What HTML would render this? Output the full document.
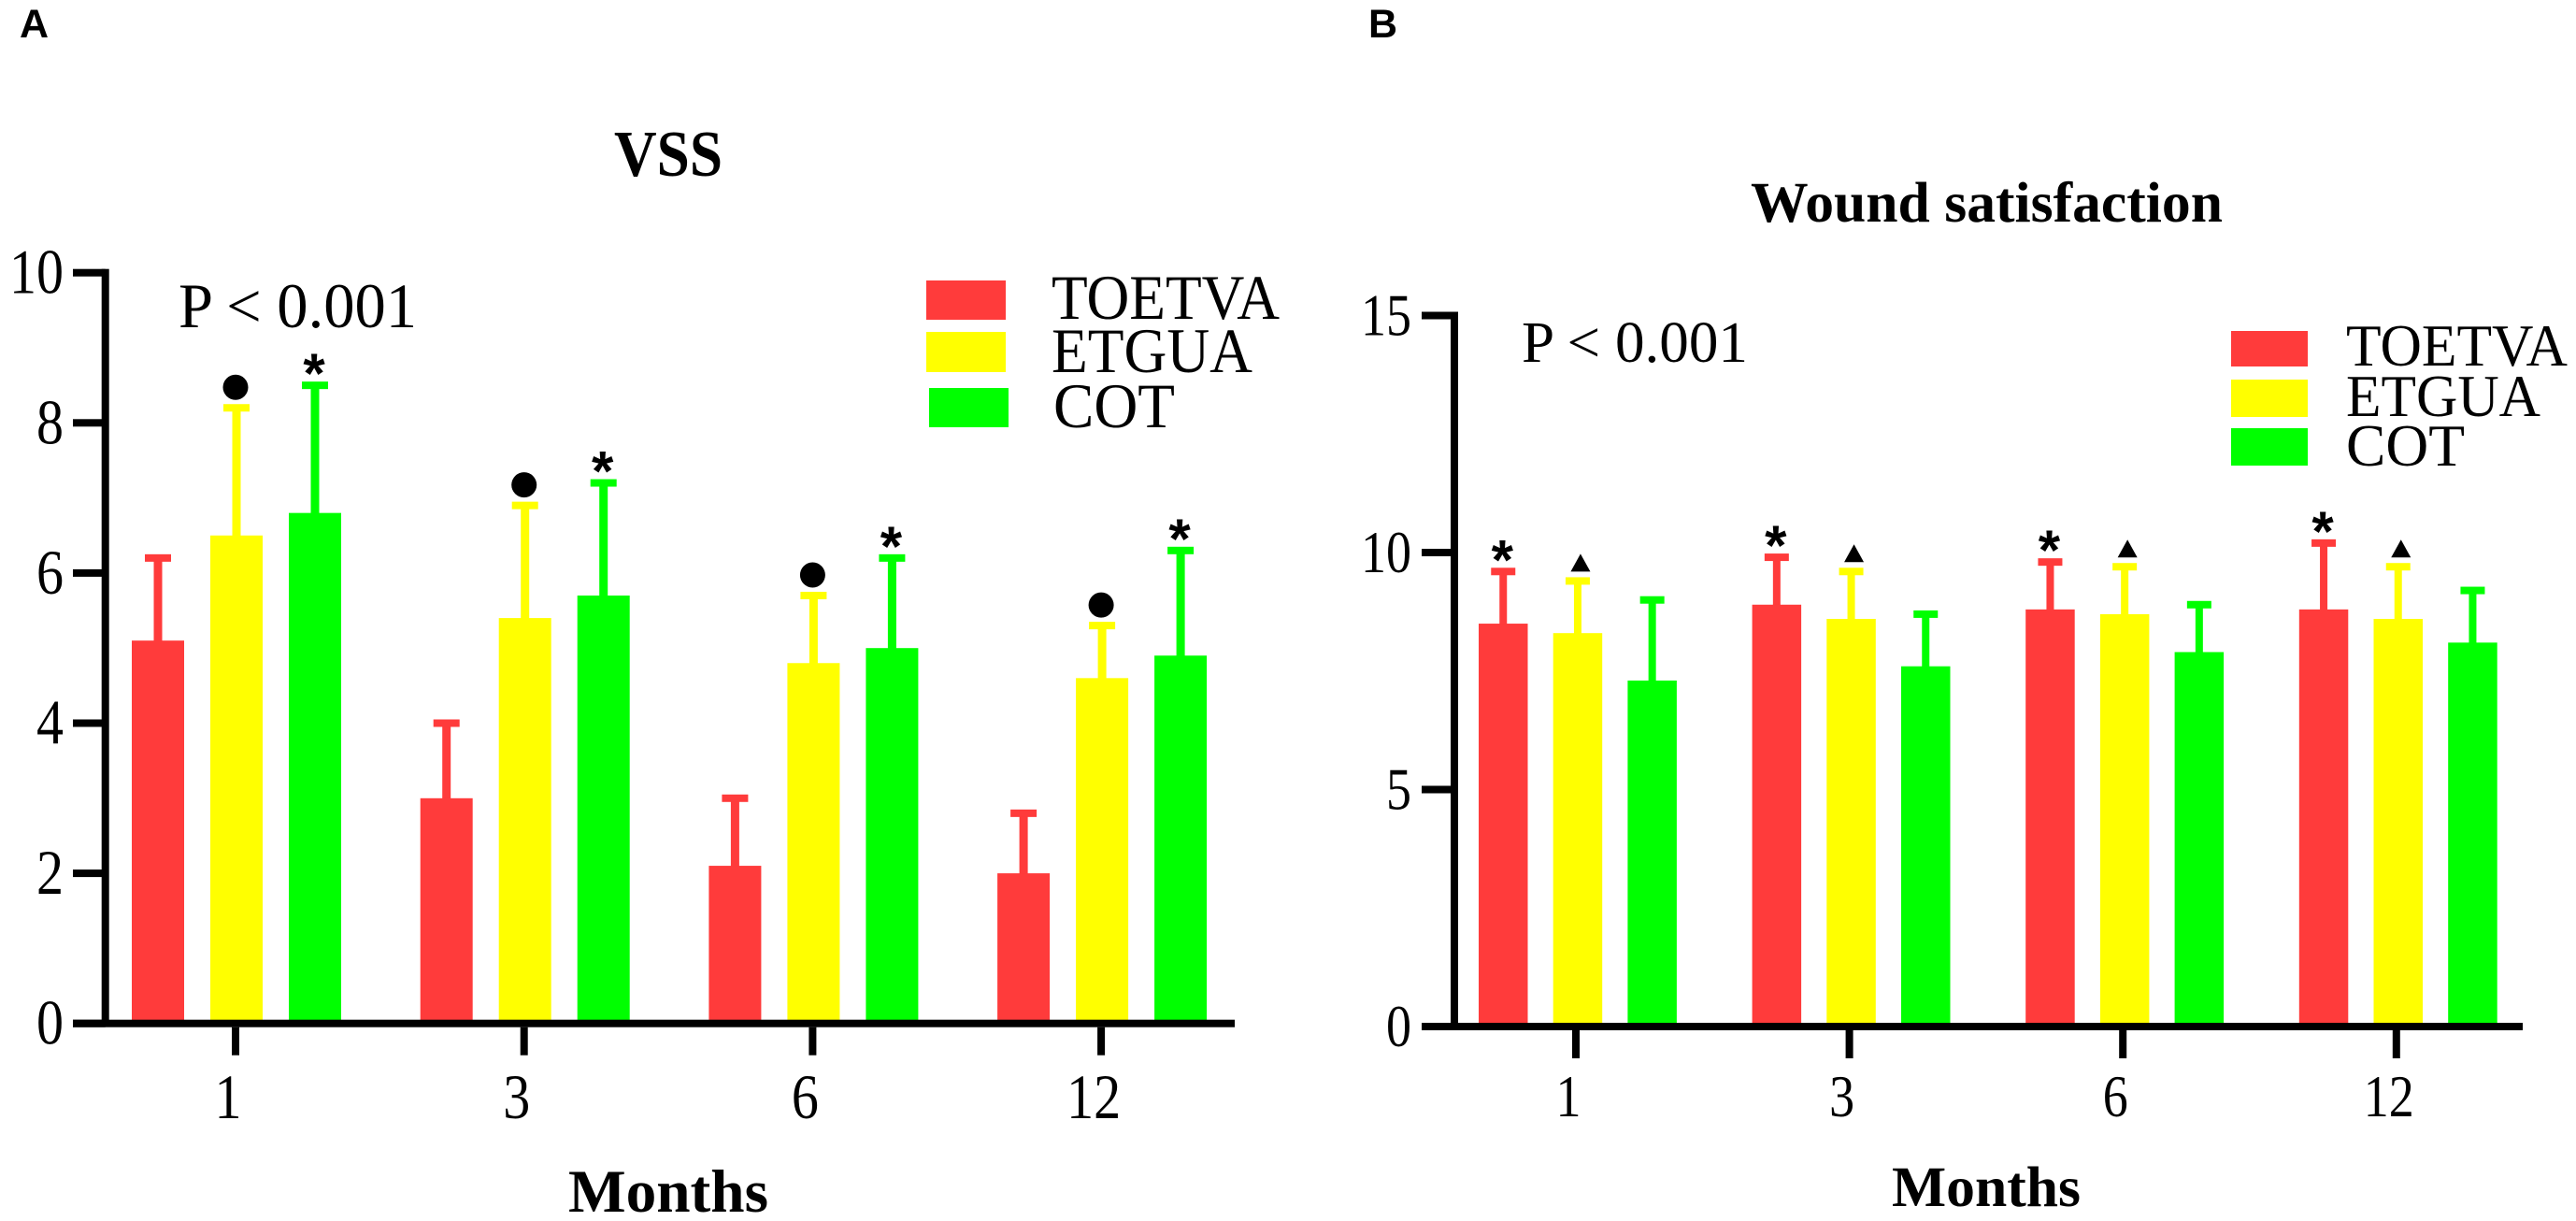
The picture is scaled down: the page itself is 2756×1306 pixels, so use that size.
<!DOCTYPE html>
<html lang="en">
<head>
<meta charset="utf-8">
<title>VSS and Wound satisfaction charts</title>
<style>
html,body{margin:0;padding:0;background:#fff;width:2756px;height:1306px;overflow:hidden}
svg{display:block}
text{font-family:"Liberation Serif",serif;fill:#000}
.sans{font-family:"Liberation Sans",sans-serif;font-weight:700}
.b{font-weight:700}
</style>
</head>
<body>
<svg id="figure" xmlns="http://www.w3.org/2000/svg" width="2756" height="1306" viewBox="0 0 2756 1306">
  <rect width="2756" height="1306" fill="#fff"/>

  <text class="sans" x="21" y="40" font-size="43">A</text>
  <text class="sans" x="1464" y="40" font-size="43">B</text>

  <text class="b" x="657" y="188" font-size="70" textLength="116" lengthAdjust="spacingAndGlyphs">VSS</text>
  <text class="b" x="1873" y="237" font-size="61" textLength="505" lengthAdjust="spacingAndGlyphs">Wound satisfaction</text>

  <text x="191" y="350" font-size="68" textLength="255" lengthAdjust="spacingAndGlyphs">P &lt; 0.001</text>
  <text x="1628" y="387" font-size="62" textLength="242" lengthAdjust="spacingAndGlyphs">P &lt; 0.001</text>

  <text class="b" x="608" y="1296" font-size="65" textLength="214" lengthAdjust="spacingAndGlyphs">Months</text>
  <text class="b" x="2024" y="1290" font-size="61" textLength="202" lengthAdjust="spacingAndGlyphs">Months</text>

  <g>
    <rect x="991" y="300" width="85" height="42" fill="#ff3b3b"/>
    <rect x="991" y="355" width="85" height="43" fill="#ffff00"/>
    <rect x="994" y="415" width="85" height="42" fill="#00ff00"/>
    <text x="1125" y="341" font-size="68" textLength="244" lengthAdjust="spacingAndGlyphs">TOETVA</text>
    <text x="1125" y="398" font-size="68" textLength="215" lengthAdjust="spacingAndGlyphs">ETGUA</text>
    <text x="1127" y="457" font-size="68" textLength="130" lengthAdjust="spacingAndGlyphs">COT</text>
  </g>
  <g>
    <rect x="2387" y="354" width="82" height="38" fill="#ff3b3b"/>
    <rect x="2387" y="406" width="82" height="40" fill="#ffff00"/>
    <rect x="2387" y="458" width="82" height="40" fill="#00ff00"/>
    <text x="2510" y="391" font-size="63" textLength="237" lengthAdjust="spacingAndGlyphs">TOETVA</text>
    <text x="2510" y="445" font-size="63" textLength="208" lengthAdjust="spacingAndGlyphs">ETGUA</text>
    <text x="2510" y="498" font-size="63" textLength="127" lengthAdjust="spacingAndGlyphs">COT</text>
  </g>
</svg>
<script>
// ---- Shared categories ----
const months = ['1', '3', '6', '12'];
const seriesNames = ['TOETVA', 'ETGUA', 'COT'];
const seriesColors = ['#ff3b3b', '#ffff00', '#00ff00'];

// ---- Panel A: VSS ----
const vssTicks = [0, 2, 4, 6, 8, 10];
const vssToetva = [5.1, 3.0, 2.1, 2.0];
const vssEtgua = [6.5, 5.4, 4.8, 4.6];
const vssCot = [6.8, 5.7, 5.0, 4.9];
const vssToetvaErr = [6.2, 4.0, 3.0, 2.8];
const vssEtguaErr = [8.2, 6.9, 5.7, 5.3];
const vssCotErr = [8.5, 7.2, 6.2, 6.3];

// ---- Panel B: Wound satisfaction ----
const woundTicks = [0, 5, 10, 15];
const woundToetva = [8.5, 8.9, 8.8, 8.8];
const woundEtgua = [8.3, 8.6, 8.7, 8.6];
const woundCot = [7.3, 7.6, 7.9, 8.1];
const woundToetvaErr = [9.6, 9.9, 9.8, 10.2];
const woundEtguaErr = [9.4, 9.6, 9.7, 9.7];
const woundCotErr = [9.0, 8.7, 8.9, 9.2];

const svg = document.getElementById('figure');
const NS = 'http://www.w3.org/2000/svg';

function add(parent, tag, attrs) {
  const el = document.createElementNS(NS, tag);
  for (const k in attrs) el.setAttribute(k, attrs[k]);
  parent.appendChild(el);
  return el;
}

function drawPanel(p) {
  const yScale = v => p.y0 - v * p.unit;
  const barLeft = (g, s) => p.barStart + g * p.groupPitch + s * p.barPitch;

  const group = add(svg, 'g', {});
  
  

  p.values.forEach((vals, s) => {
    vals.forEach((v, g) => {
      const x = barLeft(g, s);
      const cx = x + p.barW / 2;
      const errTop = yScale(p.errors[s][g]);

      const stem = add(group, 'rect', {x: cx - p.stemW / 2, y: errTop, width: p.stemW, height: yScale(v) - errTop + 1, fill: seriesColors[s]});
      
      

      const cap = add(group, 'rect', {x: cx - p.capW / 2, y: errTop - 4, width: p.capW, height: 8, fill: seriesColors[s]});
      
      

      const bar = add(group, 'rect', {x: x, y: yScale(v), width: p.barW, height: p.y0 - yScale(v), fill: seriesColors[s]});
      
      

      const kind = p.markers[s];
      if (kind === 'circle') {
        const c = add(group, 'circle', {cx: cx - 1, cy: errTop - 22, r: 13.5, fill: '#000'});
        
        
      } else if (kind === 'star') {
        const t = add(group, 'text', {x: cx - 1, y: errTop + p.starDy, 'font-size': 60, 'text-anchor': 'middle', class: 'sans'});
        t.textContent = '*';
        
        
      } else if (kind === 'tri') {
        const tx = cx + 3, by = errTop - 10;
        const tr = add(group, 'polygon', {points: (tx - 10.5) + ',' + by + ' ' + (tx + 10.5) + ',' + by + ' ' + tx + ',' + (by - 19), fill: '#000'});
        
        
      }
    });
  });

  // y axis line
  const yAxis = add(group, 'rect', {x: p.axisX - 4, y: yScale(p.ticks[p.ticks.length - 1]) - 4, width: 8, height: p.y0 - yScale(p.ticks[p.ticks.length - 1]) + 4, fill: '#000'});
  
  

  // x axis line
  const xAxis = add(group, 'rect', {x: p.tickLeft, y: p.y0 - 4, width: p.axisEnd - p.tickLeft, height: 8, fill: '#000'});
  
  

  p.ticks.forEach(t => {
    const y = yScale(t);
    const mark = add(group, 'rect', {x: p.tickLeft, y: y - 4, width: p.axisX - p.tickLeft, height: 8, fill: '#000'});
    
    

    const s = String(t);
    const label = add(group, 'text', {x: p.yLabelX, y: y + p.yLabelDy, 'font-size': p.fontSize, 'text-anchor': 'end', textLength: s.length * p.digitW, lengthAdjust: 'spacingAndGlyphs'});
    label.textContent = s;
    
    
  });

  months.forEach((m, g) => {
    const x = p.tickStart + g * p.groupPitch;
    const mark = add(group, 'rect', {x: x - 4, y: p.y0 + 4, width: 8, height: 30, fill: '#000'});
    
    

    const label = add(group, 'text', {x: x - p.xLabelShift, y: p.xLabelY, 'font-size': p.fontSize, 'text-anchor': 'middle', textLength: m.length * p.digitW, lengthAdjust: 'spacingAndGlyphs'});
    label.textContent = m;
    
    
  });
}

drawPanel({
  name: 'vss',
  ticks: vssTicks,
  values: [vssToetva, vssEtgua, vssCot],
  errors: [vssToetvaErr, vssEtguaErr, vssCotErr],
  markers: [null, 'circle', 'star'],
  y0: 1094.7, unit: 80.3,
  barStart: 141, barW: 56, barPitch: 84, groupPitch: 308.7,
  stemW: 9, capW: 28, starDy: 8,
  axisX: 112.7, axisEnd: 1321, tickLeft: 78, tickStart: 252,
  yLabelX: 68, yLabelDy: 22, xLabelY: 1196, xLabelShift: 8,
  fontSize: 68, digitW: 29
});

drawPanel({
  name: 'wound',
  ticks: woundTicks,
  values: [woundToetva, woundEtgua, woundCot],
  errors: [woundToetvaErr, woundEtguaErr, woundCotErr],
  markers: ['star', 'tri', null],
  y0: 1098, unit: 50.7,
  barStart: 1582, barW: 52.5, barPitch: 79.7, groupPitch: 292.6,
  stemW: 8, capW: 26, starDy: 8,
  axisX: 1556, axisEnd: 2699, tickLeft: 1521, tickStart: 1686,
  yLabelX: 1510, yLabelDy: 21, xLabelY: 1194, xLabelShift: 8,
  fontSize: 63, digitW: 27
});
</script>
</body>
</html>
